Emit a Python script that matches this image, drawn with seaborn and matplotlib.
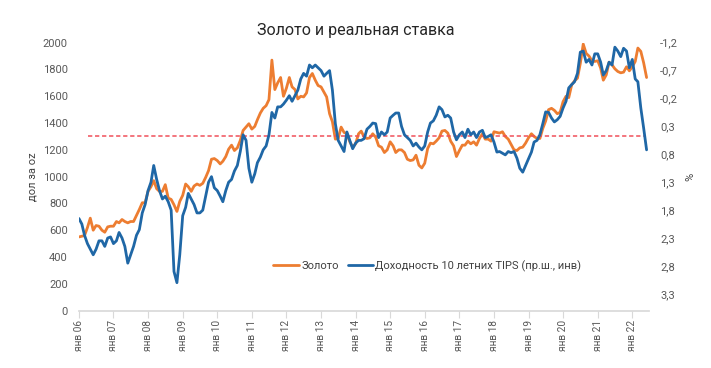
import numpy as np
import pandas as pd
import matplotlib.pyplot as plt
import seaborn as sns

# monthly values, Jan 2006 - Jun 2022
gold = [
    550, 555, 560, 620, 690, 600, 635, 630, 600, 585, 625, 630,        # 2006
    630, 665, 655, 680, 665, 655, 665, 665, 710, 755, 805, 805,        # 2007
    890, 925, 970, 910, 890, 890, 940, 840, 830, 790, 740, 815,        # 2008
    860, 945, 925, 890, 930, 945, 935, 950, 995, 1045, 1130, 1135,     # 2009
    1120, 1095, 1115, 1150, 1205, 1235, 1195, 1215, 1270, 1345, 1370, 1395,  # 2010
    1355, 1375, 1425, 1475, 1510, 1530, 1575, 1870, 1650, 1700, 1740, 1600,  # 2011
    1660, 1740, 1670, 1650, 1580, 1600, 1595, 1625, 1740, 1770, 1720, 1680,  # 2012
    1670, 1630, 1595, 1470, 1410, 1280, 1285, 1370, 1330, 1320, 1260, 1220,  # 2013
    1245, 1320, 1340, 1295, 1285, 1290, 1320, 1295, 1230, 1220, 1180, 1200,  # 2014
    1260, 1230, 1180, 1200, 1200, 1180, 1130, 1120, 1125, 1160, 1085, 1065,  # 2015
    1100, 1210, 1250, 1245, 1265, 1290, 1340, 1345, 1325, 1265, 1230, 1150,  # 2016
    1195, 1235, 1235, 1265, 1245, 1260, 1235, 1285, 1320, 1280, 1280, 1265,  # 2017
    1335, 1330, 1325, 1335, 1300, 1280, 1240, 1200, 1195, 1215, 1220, 1250,  # 2018
    1290, 1320, 1300, 1285, 1285, 1360, 1415, 1500, 1510, 1495, 1470, 1480,  # 2019
    1560, 1600, 1590, 1685, 1715, 1735, 1845, 1990, 1920, 1900, 1865, 1860,  # 2020
    1865, 1810, 1720, 1760, 1855, 1835, 1805, 1785, 1775, 1780, 1820, 1790,  # 2021
    1820, 1860, 1960, 1935, 1850, 1740,                                      # 2022
]

tips = [
    1.95, 2.05, 2.25, 2.40, 2.50, 2.60, 2.50, 2.35, 2.35, 2.45, 2.30, 2.28,
    2.40, 2.35, 2.20, 2.30, 2.45, 2.75, 2.60, 2.45, 2.25, 2.15, 1.85, 1.70,
    1.45, 1.30, 1.00, 1.25, 1.45, 1.60, 1.55, 1.65, 1.80, 2.90, 3.10, 2.60,
    1.90, 1.75, 1.50, 1.60, 1.70, 1.85, 1.85, 1.80, 1.55, 1.30, 1.20, 1.40,
    1.45, 1.55, 1.65, 1.45, 1.30, 1.25, 1.10, 1.00, 0.75, 0.45, 0.55, 1.05,
    1.30, 1.15, 0.95, 0.85, 0.72, 0.65, 0.45, 0.05, 0.15, -0.05, -0.05, -0.10,
    -0.17, -0.25, -0.15, -0.25, -0.35, -0.55, -0.65, -0.60, -0.80, -0.75, -0.80, -0.75,
    -0.70, -0.60, -0.65, -0.70, -0.35, 0.25, 0.55, 0.65, 0.75, 0.40, 0.55, 0.70,
    0.60, 0.55, 0.55, 0.52, 0.35, 0.30, 0.24, 0.25, 0.50, 0.40, 0.45, 0.40,
    0.15, 0.10, 0.06, 0.06, 0.30, 0.45, 0.50, 0.55, 0.65, 0.60, 0.67, 0.72,
    0.65, 0.40, 0.24, 0.20, 0.10, -0.05, 0.00, 0.13, 0.10, 0.15, 0.40, 0.54,
    0.45, 0.40, 0.50, 0.35, 0.45, 0.40, 0.50, 0.40, 0.37, 0.50, 0.48, 0.45,
    0.58, 0.76, 0.75, 0.78, 0.81, 0.75, 0.77, 0.75, 0.87, 1.05, 1.12, 1.00,
    0.88, 0.76, 0.58, 0.55, 0.45, 0.25, 0.04, 0.05, 0.15, 0.22, 0.18, 0.12,
    -0.03, -0.15, -0.39, -0.45, -0.50, -0.65, -1.03, -1.05, -0.85, -0.90, -0.80, -1.00,
    -1.00, -0.85, -0.62, -0.70, -0.85, -0.80, -1.12, -1.05, -0.95, -1.10, -1.05, -0.75,
    -0.90, -0.55, -0.50, -0.03, 0.33, 0.72,
]

dates = pd.date_range('2006-01-01', periods=len(gold), freq='MS')
year_ticks = pd.date_range('2006-01-01', '2022-01-01', freq='YS')
year_labels = ['янв %02d' % (d.year % 100) for d in year_ticks]
left_ticks = list(range(0, 2001, 200))
right_ticks = [-1.2, -0.7, -0.2, 0.3, 0.8, 1.3, 1.8, 2.3, 2.8, 3.3]
level = 1300

df = pd.DataFrame({'date': dates, 'gold': gold, 'tips': tips})

sns.set_theme(style='white')
plt.rcParams['font.family'] = ['Roboto', 'DejaVu Sans']

orange = '#ED7D31'
blue = '#1F67A6'
grey = '#595959'

fig = plt.figure(figsize=(7.11, 3.68), dpi=100)
ax = fig.add_axes([0.111, 0.156, 0.802, 0.728])
ax2 = ax.twinx()

sns.lineplot(data=df, x='date', y='gold', ax=ax, color=orange, lw=2.0,
             label='Золото', legend=False)
sns.lineplot(data=df, x='date', y='tips', ax=ax2, color=blue, lw=2.0,
             label='Доходность 10 летних TIPS (пр.ш., инв)', legend=False)

ax.hlines(level, pd.Timestamp('2006-04-10'), pd.Timestamp('2022-05-10'),
          color='#F0505A', lw=1.1, linestyles=(0, (2.8, 1.8)))

ax.set_zorder(ax2.get_zorder() - 1)
ax2.patch.set_visible(False)

ax.set_xlim(pd.Timestamp('2006-01-01'), pd.Timestamp('2022-06-28'))
ax.set_ylim(0, 2000)
ax2.set_ylim(3.6, -1.2)

ax.set_yticks(left_ticks)
ax.set_yticklabels([str(v) for v in left_ticks])
ax2.set_yticks(right_ticks)
ax2.set_yticklabels([('%.1f' % v).replace('.', ',') for v in right_ticks])
ax.set_xticks(year_ticks)
ax.set_xticklabels(year_labels, rotation=90)

ax.tick_params(axis='y', length=0, pad=8, labelsize=8, labelcolor=grey)
ax2.tick_params(axis='y', length=0, pad=8, labelsize=8, labelcolor=grey)
ax.tick_params(axis='x', length=5, width=0.8, color='#D9D9D9', pad=2,
               labelsize=7.3, labelcolor=grey, bottom=True)

for a in (ax, ax2):
    for s in ('top', 'left', 'right'):
        a.spines[s].set_visible(False)
    a.spines['bottom'].set_color('#D9D9D9')
    a.grid(False)
ax2.spines['bottom'].set_visible(False)

ax.set_xlabel('')
ax.set_ylabel('дол за oz', fontsize=8, color='#404040', labelpad=4)
ax2.set_ylabel('%', fontsize=8, color='#404040', rotation=90, labelpad=5)

fig.text(0.5, 0.918, 'Золото и реальная ставка', ha='center', va='center',
         fontsize=11.5, color='#262626')

h1, l1 = ax.get_legend_handles_labels()
h2, l2 = ax2.get_legend_handles_labels()
fig.legend(h1 + h2, l1 + l2, loc='center', bbox_to_anchor=(0.601, 0.277),
           ncol=2, frameon=False, fontsize=8, handlelength=2.3,
           handletextpad=0.2, columnspacing=0.8, labelcolor='#404040')

fig.savefig('out.png', dpi=100)
